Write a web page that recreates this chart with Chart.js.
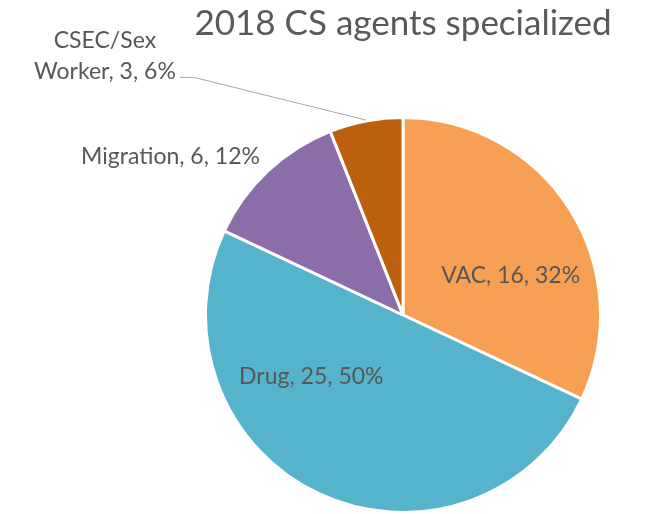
<!DOCTYPE html>
<html>
<head>
<meta charset="utf-8">
<script src="https://cdn.jsdelivr.net/npm/chart.js@4.4.0/dist/chart.umd.min.js"></script>
<style>
  html, body { margin:0; padding:0; background:#fff; }
  #wrap { width:648px; height:514px; position:relative; }
</style>
</head>
<body>
<div id="wrap"><canvas id="pie"></canvas></div>
<script>
// Data
const categories = ['VAC', 'Drug', 'Migration', 'CSEC/Sex Worker'];
const agents = [16, 25, 6, 3];
const percents = [32, 50, 12, 6];
const sliceColors = ['#F79F52', '#56B3CC', '#8B6DAA', '#BC600F'];

// label placement: angle (deg clockwise from top) and distance as a fraction of radius
const labelPlacement = [
    { angle: 70, dist: 0.58, lines: ['VAC, 16, 32%'] },
    { angle: 236, dist: 0.56, lines: ['Drug, 25, 50%'] },
    { angle: 304.3, dist: 1.425, lines: ['Migration, 6, 12%'] },
    { angle: 311, dist: 2.0, lines: ['CSEC/Sex', 'Worker, 3, 6%'], leader: true }
];

const pieLabels = {
    id: 'pieLabels',
    afterDatasetsDraw(chart){
        const ctx = chart.ctx;
        const arcs = chart.getDatasetMeta(0).data;
        ctx.save();
        ctx.font = '23px Lato, "Open Sans", sans-serif';
        ctx.fillStyle = '#575757';
        ctx.textAlign = 'center';
        ctx.textBaseline = 'middle';
        arcs.forEach((arc, i) => {
            const p = labelPlacement[i];
            const a = p.angle * Math.PI / 180;
            const r = arc.outerRadius;
            const cx = arc.x + Math.sin(a) * r * p.dist;
            const cy = arc.y - Math.cos(a) * r * p.dist;
            const lh = 31;
            const top = cy - (p.lines.length - 1) * lh / 2;
            p.lines.forEach((t, k) => ctx.fillText(t, cx, top + k * lh));
            if (p.leader) {
                const mid = (arc.startAngle + arc.endAngle) / 2;
                const ex = arc.x + Math.cos(mid) * (r + 1);
                const ey = arc.y + Math.sin(mid) * (r + 1);
                const last = p.lines[p.lines.length - 1];
                const w = ctx.measureText(last).width;
                const lx = cx + w / 2 + 4;
                const ly = top + (p.lines.length - 1) * lh + 6;
                ctx.strokeStyle = '#A6A6A6';
                ctx.lineWidth = 1;
                ctx.beginPath();
                ctx.moveTo(lx, ly);
                ctx.lineTo(lx + 14, ly);
                ctx.lineTo(ex, ey);
                ctx.stroke();
            }
        });
        ctx.restore();
    }
};

new Chart(document.getElementById('pie'), {
    type: 'pie',
    data: {
        labels: categories,
        datasets: [{
            data: agents,
            backgroundColor: sliceColors,
            borderColor: '#ffffff',
            borderWidth: 3
        }]
    },
    options: {
        responsive: true,
        maintainAspectRatio: false,
        animation: false,
        layout: { padding: { left: 158, right: 0, top: 0, bottom: -2 } },
        plugins: {
            legend: { display: false },
            tooltip: { enabled: false },
            title: {
                display: true,
                text: '2018 CS agents specialized',
                color: '#595959',
                font: { family: 'Lato, "Open Sans", sans-serif', size: 35, weight: 'normal' },
                padding: { top: 3, bottom: 71 }
            }
        }
    },
    plugins: [pieLabels]
});
</script>
</body>
</html>
